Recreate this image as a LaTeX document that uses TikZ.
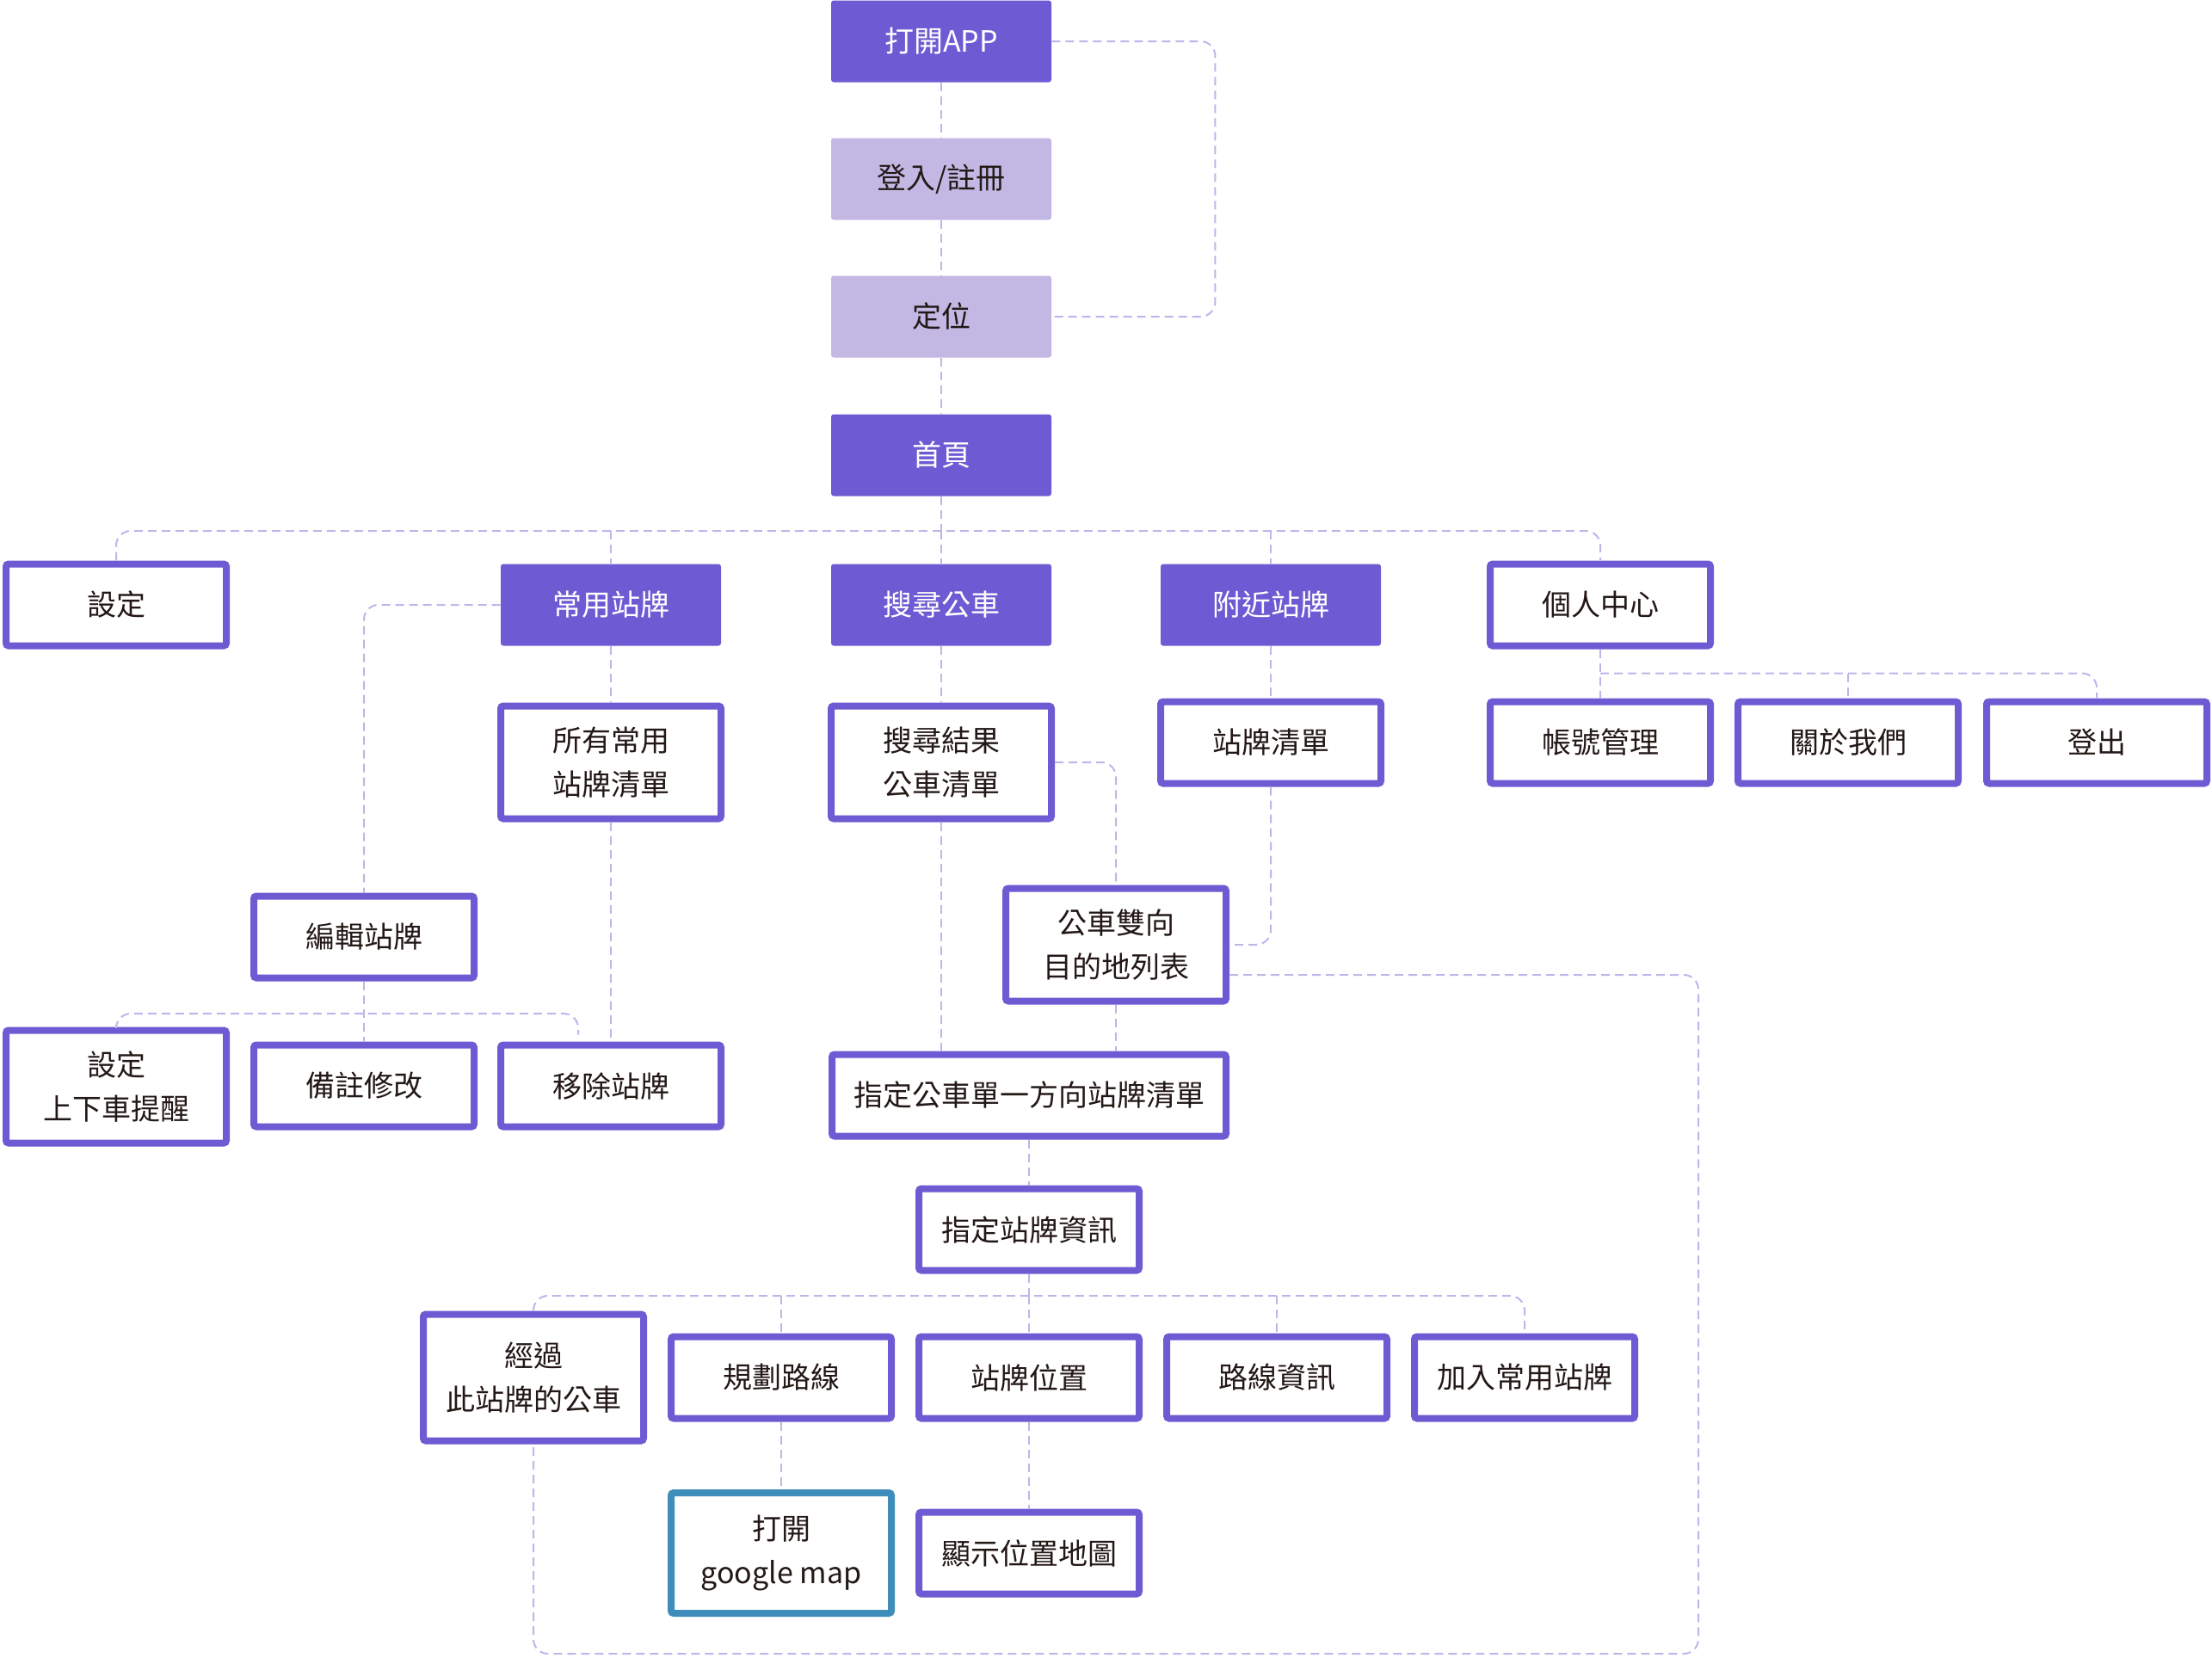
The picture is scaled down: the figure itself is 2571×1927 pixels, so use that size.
\documentclass[tikz,border=0pt]{standalone}
\usepackage{fontspec}
\newfontfamily\cjk{Noto Sans CJK TC}
\usetikzlibrary{calc}

\definecolor{deep}{HTML}{6E5BD3}
\definecolor{soft}{HTML}{C3B8E4}
\definecolor{sea}{HTML}{3E8DBA}
\definecolor{wire}{HTML}{BFB5EA}
\definecolor{ink}{HTML}{231815}

\tikzset{
  base/.style={rectangle, rounded corners=1.5pt, minimum width=128pt,
    minimum height=47.5pt, inner sep=0pt, align=center, text=ink,
    font=\cjk\fontsize{17}{25.5}\selectfont},
  solidbox/.style={base, fill=deep, text=white},
  softbox/.style={base, fill=soft},
  linebox/.style={base, draw=deep, line width=4pt, fill=white},
  seabox/.style={linebox, draw=sea},
  tall/.style={minimum height=65.5pt},
  link/.style={draw=wire, line width=1pt, dash pattern=on 5pt off 3pt,
    rounded corners=8.5pt}
}

\begin{document}
\begin{tikzpicture}[x=0.5pt, y=-0.5pt]
\useasboundingbox (0,0) rectangle (2571,1927);

% start-up sequence
\node[solidbox] (app)    at (1094,48)  {打開APP};
\node[softbox]  (login)  at (1094,208) {登入/註冊};
\node[softbox]  (locate) at (1094,368) {定位};
\node[solidbox] (home)   at (1094,529) {首頁};

% main menu
\node[linebox]  (settings) at (135,703)  {設定};
\node[solidbox] (fav)      at (710,703)  {常用站牌};
\node[solidbox] (search)   at (1094,703) {搜尋公車};
\node[solidbox] (nearby)   at (1477,703) {附近站牌};
\node[linebox]  (personal) at (1860,703) {個人中心};

% second level
\node[linebox, tall] (favall)   at (710,886)  {所有常用\\站牌清單};
\node[linebox, tall] (result)   at (1094,886) {搜尋結果\\公車清單};
\node[linebox]       (stoplist) at (1477,863) {站牌清單};
\node[linebox]       (account)  at (1860,863) {帳號管理};
\node[linebox]       (about)    at (2148,863) {關於我們};
\node[linebox]       (logout)   at (2437,863) {登出};

% favourite stops branch
\node[linebox]       (edit)   at (423,1089) {編輯站牌};
\node[linebox, tall] (remind) at (135,1263) {設定\\上下車提醒};
\node[linebox]       (note)   at (423,1262) {備註修改};
\node[linebox]       (remove) at (710,1262) {移除站牌};

% bus search branch
\node[linebox, tall] (bothdir)  at (1297,1098) {公車雙向\\目的地列表};
\node[linebox, minimum width=458pt*0.5] (onedir) at (1196,1273) {指定公車單一方向站牌清單};
\node[linebox]       (stopinfo) at (1196,1429) {指定站牌資訊};

% stop details
\node[linebox, minimum height=73.5pt] (passing) at (620,1601) {經過\\此站牌的公車};
\node[linebox] (route)     at (908,1601)  {規劃路線};
\node[linebox] (position)  at (1196,1601) {站牌位置};
\node[linebox] (routeinfo) at (1484,1601) {路線資訊};
\node[linebox] (addfav)    at (1772,1601) {加入常用站牌};
\node[seabox, minimum height=70pt] (gmap) at (908,1805) {打開\\google map};
\node[linebox] (map)       at (1196,1805) {顯示位置地圖};

% junction points of the branching lines
\coordinate (bus)     at (1094,617);
\coordinate (info)    at (1196,1506);
\coordinate (remjoin) at (423,1178);
\coordinate (remtap)  at ($(remove.north)+(-38,-8)$);
\coordinate (loopR)   at (1974,1922);

\begin{scope}[on background layer/.style={}]
% start-up
\draw[link] (app.south) -- (login.north);
\draw[link] (login.south) -- (locate.north);
\draw[link] (app.east) -- ++(190,0) |- (locate.east);
\draw[link] (locate.south) -- (home.south |- home.north);

% main menu
\draw[link] (home.south) -- (bus);
\draw[link] (settings.north) |- (bus) -| (personal.north);
\draw[link] (fav.north |- bus) -- (fav.north);
\draw[link] (search.north |- bus) -- (search.north);
\draw[link] (nearby.north |- bus) -- (nearby.north);

% favourite stops
\draw[link] (fav.south) -- (favall.north);
\draw[link] (favall.south) -- (remove.north);
\draw[link] (fav.west) -| (edit.north);
\draw[link] (edit.south) -- (note.north);
\draw[link] (remind.north) |- (remjoin) -| (remtap);

% bus search
\draw[link] (search.south) -- (result.north);
\draw[link] (result.south) -- (result.south |- onedir.north);
\draw[link] (result.east) -| (bothdir.north);
\draw[link] (bothdir.south) -- (bothdir.south |- onedir.north);
\draw[link] ($(bothdir.east)+(0,35)$) -| (loopR) -| (passing.south);

% nearby stops
\draw[link] (nearby.south) -- (stoplist.north);
\draw[link] (stoplist.south) |- (bothdir.east);

% personal centre
\draw[link] (personal.south) -- ++(0,28) coordinate (acc) -- (account.north);
\draw[link] (acc) -| (logout.north);
\draw[link] (acc -| about.north) -- (about.north);

% stop details
\draw[link] (onedir.south) -- (stopinfo.north);
\draw[link] (stopinfo.south) -- (info);
\draw[link] (passing.north) |- (info) -| (addfav.north);
\draw[link] (route.north |- info) -- (route.north);
\draw[link] (info) -- (position.north);
\draw[link] (routeinfo.north |- info) -- (routeinfo.north);
\draw[link] (route.south) -- (gmap.north);
\draw[link] (position.south) -- (map.north);
\end{scope}
\end{tikzpicture}
\end{document}
